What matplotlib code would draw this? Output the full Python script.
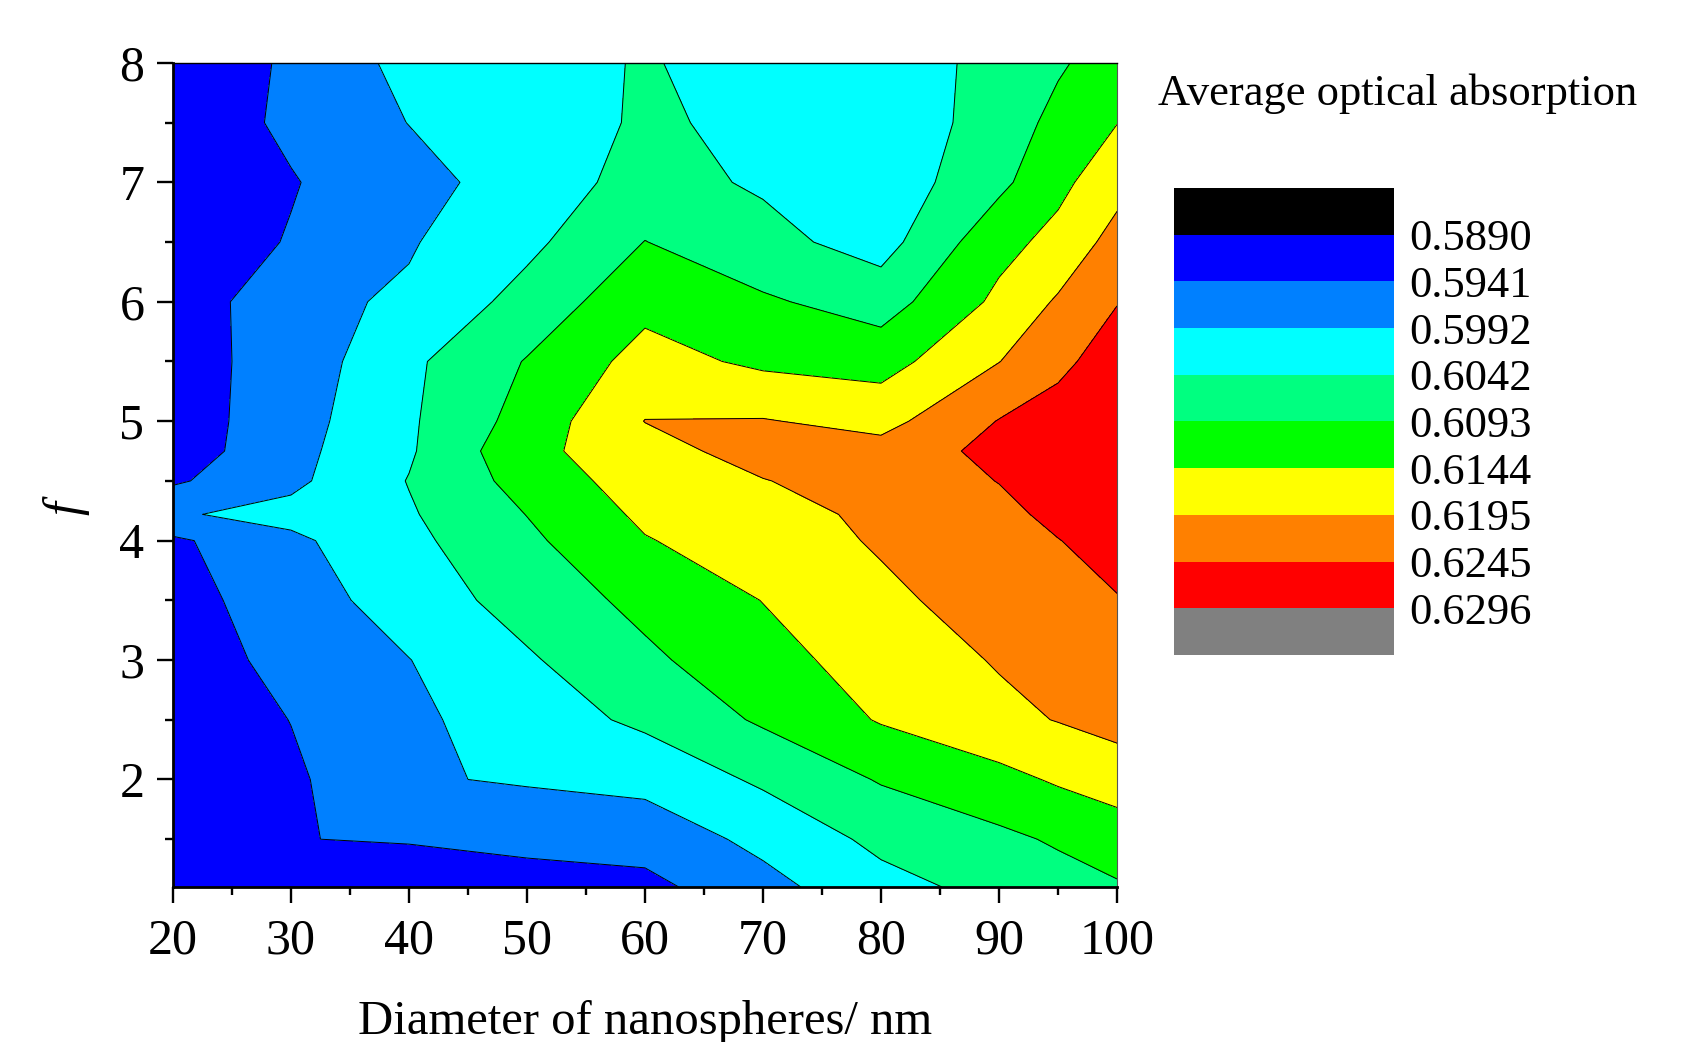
import numpy as np
import matplotlib
matplotlib.use("Agg")
import matplotlib.pyplot as plt
from matplotlib.colors import ListedColormap

plt.rcParams["font.family"] = ["Liberation Serif", "DejaVu Serif"]

# grid
diameter = [20, 30, 40, 50, 60, 70, 80, 90, 95, 100]
f_values = [1.1, 1.5, 2.0, 2.5, 3.0, 3.5, 4.0, 4.22, 4.5, 4.75, 5.0, 5.5, 6.0, 6.5, 7.0, 7.5, 8.0]

# average optical absorption, one row per f value (bottom to top)
absorption = [
    [.5900, .5905, .5915, .5918, .5927, .5976, .6026, .6057, .6073, .6088],  # 1.1
    [.5905, .5940, .5944, .5956, .5962, .6005, .6054, .6082, .6099, .6118],  # 1.5
    [.5900, .5932, .5987, .5997, .6007, .6050, .6097, .6129, .6150, .6167],  # 2.0
    [.5902, .5942, .5982, .6017, .6052, .6100, .6148, .6182, .6197, .6213],  # 2.5
    [.5918, .5954, .5991, .6036, .6083, .6127, .6165, .6199, .6209, .6225],  # 3.0
    [.5921, .5968, .6015, .6062, .6107, .6145, .6185, .6215, .6229, .6243],  # 3.5
    [.5932, .5982, .6030, .6083, .6141, .6171, .6200, .6225, .6244, .6260],  # 4.0
    [.5987, .6007, .6037, .6094, .6154, .6163, .6213, .6235, .6254, .6260],  # 4.22
    [.5934, .5981, .6044, .6112, .6169, .6193, .6220, .6246, .6263, .6271],  # 4.5
    [.5913, .5977, .6036, .6130, .6175, .6216, .6213, .6260, .6273, .6281],  # 4.75
    [.5914, .5971, .6035, .6113, .6196, .6198, .6179, .6247, .6268, .6276],  # 5.0
    [.5921, .5961, .6032, .6096, .6163, .6134, .6124, .6194, .6232, .6272],  # 5.5
    [.5905, .5979, .5999, .6060, .6129, .6100, .6070, .6155, .6201, .6243],  # 6.0
    [.5912, .5944, .5988, .6030, .6094, .6057, .6022, .6128, .6159, .6214],  # 6.5
    [.5913, .5938, .5973, .6017, .6059, .6036, .6009, .6081, .6131, .6177],  # 7.0
    [.5910, .5950, .5993, .6022, .6047, .6034, .6017, .6058, .6111, .6143],  # 7.5
    [.5910, .5947, .6008, .6027, .6045, .6026, .6022, .6053, .6085, .6124],  # 8.0
]

levels = [0.5890, 0.5941, 0.5992, 0.6042, 0.6093, 0.6144, 0.6195, 0.6245, 0.6296]
band_colors = ["#0000ff", "#0080ff", "#00ffff", "#00ff80", "#00ff00",
               "#ffff00", "#ff8000", "#ff0000"]
under_color = "#000000"
over_color = "#808080"

fig = plt.figure(figsize=(16.94, 10.42), dpi=100)
ax = fig.add_axes([0.1021, 0.1488, 0.5573, 0.7908])

ax.contourf(diameter, f_values, absorption, levels=levels, colors=band_colors)
ax.contour(diameter, f_values, absorption, levels=levels, colors="k", linewidths=0.7)

ax.set_xlim(20, 100)
ax.set_ylim(1.1, 8)
ax.set_xticks(range(20, 101, 10))
ax.set_xticks(range(25, 100, 10), minor=True)
ax.set_yticks(range(2, 9))
ax.set_yticks(np.arange(1.5, 8, 1.0), minor=True)
ax.tick_params(which="both", direction="out", top=False, right=False,
               width=1.7, labelsize=36)
ax.tick_params(axis="x", which="major", length=11.5, pad=11)
ax.tick_params(axis="y", which="major", length=11.5, pad=9)
ax.tick_params(which="minor", length=5.8)
for s in ["left", "bottom"]:
    ax.spines[s].set_linewidth(2.0)
ax.spines["top"].set_linewidth(1.0)
ax.spines["right"].set_linewidth(0.8)
ax.spines["right"].set_color("#555555")

ax.set_xlabel("Diameter of nanospheres/ nm", fontsize=35)
ax.xaxis.set_label_coords(0.5, -0.137)
ax.set_ylabel("f", fontsize=36, fontstyle="italic")
ax.yaxis.set_label_coords(-0.088, 0.46)

# legend box
lax = fig.add_axes([0.6930, 0.3714, 0.1299, 0.4482])
all_colors = [under_color] + band_colors + [over_color]
lax.pcolormesh([0, 1], np.arange(len(all_colors) + 1),
               np.arange(len(all_colors)).reshape(-1, 1),
               cmap=ListedColormap(all_colors), vmin=-0.5, vmax=len(all_colors) - 0.5)
lax.set_xlim(0, 1)
lax.set_ylim(len(all_colors), 0)
lax.set_xticks([])
lax.yaxis.tick_right()
lax.set_yticks(range(1, len(levels) + 1))
lax.set_yticklabels([f"{v:.4f}" for v in levels])
lax.tick_params(axis="y", length=0, pad=11, labelsize=32)
for s in lax.spines.values():
    s.set_visible(False)

fig.text(0.6836, 0.9097, "Average optical absorption", ha="left", va="center",
         fontsize=32)

fig.savefig("out.png", dpi=100)
